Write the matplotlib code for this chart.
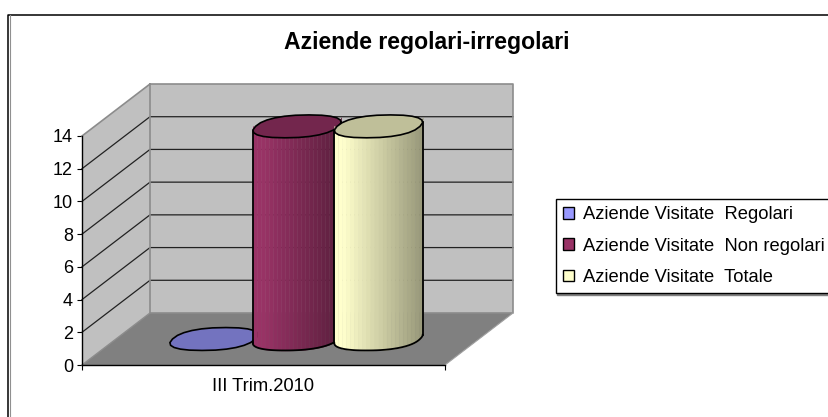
import numpy as np
import matplotlib
matplotlib.use('Agg')
import matplotlib.pyplot as plt
from matplotlib.patches import Patch
from matplotlib.colors import to_rgb

plt.rcParams['font.family'] = ['Liberation Sans', 'DejaVu Sans']

# dati
categoria = 'III Trim.2010'
serie = ['Aziende Visitate  Regolari', 'Aziende Visitate  Non regolari', 'Aziende Visitate  Totale']
valori = [0, 13, 13]
colori = ['#9999ff', '#993366', '#ffffcc']
yticks = [0, 2, 4, 6, 8, 10, 12, 14]

# geometria 3D: asse x in pixel del piano frontale, asse y nei valori
X_MAX = 363
DX = 68
DY = 52 / (229 / 14)
CENTRI = [98, 181, 262.5]
RX, RDEPTH = 41.5, 0.44 / 2


def ellisse(cx, v, n=24):
    t = np.linspace(0, 2 * np.pi, n + 1)
    c = np.sign(np.cos(t)) * np.abs(np.cos(t)) ** 0.85
    s = np.sign(np.sin(t)) * np.abs(np.sin(t)) ** 0.85
    x = cx + DX / 2 + RX * c + DX * RDEPTH * 0.8 * s
    y = v + DY / 2 + DY * RDEPTH * s
    return x, y


fig = plt.figure(figsize=(8.29, 4.17), dpi=100)
ax = fig.add_axes([82 / 829, (417 - 365) / 417, 363 / 829, 229 / 417])
ax.set_xlim(0, X_MAX)
ax.set_ylim(0, 14)
ax.patch.set_visible(False)

# pareti e pavimento
ax.fill([0, DX, DX, 0], [0, DY, 14 + DY, 14], color='#c0c0c0', clip_on=False, zorder=1, lw=0)
ax.fill([DX, X_MAX + DX, X_MAX + DX, DX], [DY, DY, 14 + DY, 14 + DY], color='#c0c0c0', clip_on=False, zorder=1, lw=0)
ax.fill([0, X_MAX, X_MAX + DX, DX], [0, 0, DY, DY], color='#808080', clip_on=False, zorder=1, lw=0)

# griglia
for v in yticks[1:-1]:
    ax.plot([0, DX, X_MAX + DX], [v, v + DY, v + DY], color='#222222', lw=0.9, clip_on=False, zorder=2)
ax.plot([0, DX, X_MAX + DX, X_MAX + DX, DX, DX], [14, 14 + DY, 14 + DY, DY, DY, 14 + DY],
        color='#8c8c8c', lw=1.2, clip_on=False, zorder=2)
ax.plot([0, DX], [0, DY], color='#8c8c8c', lw=1, clip_on=False, zorder=2)
ax.plot([X_MAX, X_MAX + DX], [0, DY], color='#a0a0a0', lw=0.8, clip_on=False, zorder=2)

# cilindri
for i, (cx, v, col) in enumerate(zip(CENTRI, valori, colori)):
    z = 3 + i
    base = np.array(to_rgb(col))
    xl, yl = ellisse(cx, v)
    if v > 0:
        # lato frontale dell'ellisse, dall'estremo sinistro a quello destro
        xe, ye = ellisse(cx, 0, n=200)
        xe, ye = xe[:-1], ye[:-1]
        sx, dx = np.argmin(xe), np.argmax(xe)
        idx = np.arange(sx, dx + len(xe) + 1) % len(xe)
        xb, yb = xe[idx], ye[idx]
        bande = np.linspace(xb[0], xb[-1], 23)
        for k in range(len(bande) - 1):
            f = k / (len(bande) - 2)
            shade = 1.0 if f < 0.08 else 1.0 - 0.4 * (f - 0.08) / 0.92
            xs = np.linspace(bande[k], bande[k + 1], 6)
            ys = np.interp(xs, xb, yb)
            ax.fill_between(xs, ys, ys + v + 0.3, color=base * shade, lw=0.3, clip_on=False, zorder=z)
        ax.plot(xb, yb, color='black', lw=1.3, clip_on=False, zorder=z + 0.1)
        ax.plot([xb[0], xb[0]], [yb[0], yb[0] + v], color='black', lw=1.3, clip_on=False, zorder=z + 0.1)
        ax.plot([xb[-1], xb[-1]], [yb[-1], yb[-1] + v], color='black', lw=1.3, clip_on=False, zorder=z + 0.1)
        ax.fill(xl, yl, facecolor=base * 0.75, edgecolor='black', lw=1.2, clip_on=False, zorder=z + 0.2)
    else:
        ax.fill(xl, yl, facecolor=base * 0.75, edgecolor='black', lw=1.2, clip_on=False, zorder=z)

# assi
ax.spines['top'].set_visible(False)
ax.spines['right'].set_visible(False)
ax.spines['left'].set_zorder(8)
ax.spines['bottom'].set_zorder(8)
ax.spines['left'].set_linewidth(1)
ax.spines['bottom'].set_linewidth(1)
ax.set_yticks(yticks)
ax.tick_params(axis='y', labelsize=13, length=3.5, width=0.8, pad=3)
ax.set_xticks([X_MAX / 2], [categoria], fontsize=13.2)
ax.tick_params(axis='x', which='major', length=0, pad=9.5)
ax.set_xticks([0, X_MAX], minor=True)
ax.tick_params(axis='x', which='minor', length=3.5, width=0.8)

# titolo e legenda
fig.text(427 / 829, 1 - 42 / 417, 'Aziende regolari-irregolari', fontsize=16.6, fontweight='bold',
         ha='center', va='center')
maniglie = [Patch(facecolor=c, edgecolor='black', lw=1) for c in colori]
fig.legend(maniglie, serie, loc='upper left', bbox_to_anchor=(556 / 829, 1 - 199 / 417), fontsize=13.2,
           frameon=True, fancybox=False, edgecolor='black', framealpha=1, borderaxespad=0,
           handlelength=0.6, handleheight=0.6, handletextpad=0.45, labelspacing=0.78,
           borderpad=0.4, shadow=dict(ox=0.7, oy=-1.2, color='#808080', alpha=1))

# bordo del grafico (tagliato a destra e in basso)
fig.add_artist(plt.Line2D([8.5 / 829, 8.5 / 829, 1], [0, 1 - 14.5 / 417, 1 - 14.5 / 417], color='black', lw=1.1))
fig.add_artist(plt.Line2D([9.8 / 829, 9.8 / 829], [0, 1 - 15 / 417], color='#909090', lw=0.8))

fig.savefig('out.png', dpi=100)
